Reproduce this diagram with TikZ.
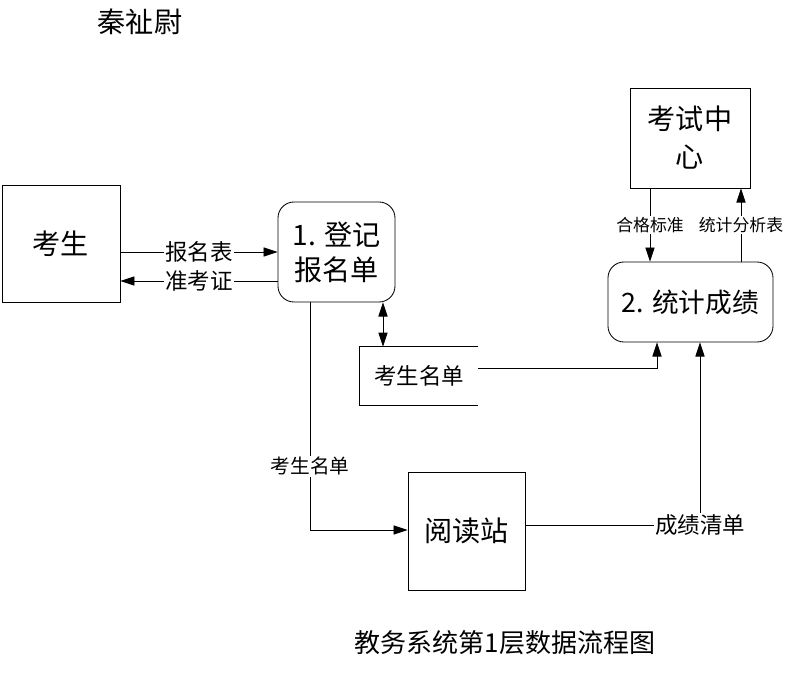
\documentclass[tikz,border=0pt]{standalone}
\usepackage{fontspec}
\setmainfont{Noto Sans CJK SC}
\usepackage{tikz}
\usetikzlibrary{arrows.meta,calc}
\tikzstyle{box} = [draw, line width=0.6pt, inner sep=0pt, align=center, font=\fontsize{20}{25}\selectfont]
\tikzstyle{proc} = [box, rounded corners=0.4cm]
\tikzstyle{lbl} = [fill=white, inner sep=1pt, font=\fontsize{16}{18}\selectfont]
\tikzstyle{slbl} = [fill=white, inner sep=1pt, font=\fontsize{12}{14}\selectfont]
\tikzstyle{flow} = [line width=0.6pt, -{Triangle[length=10pt,width=6.5pt]}]

\begin{document}
\begin{tikzpicture}[x=0.025cm, y=-0.025cm]
\useasboundingbox (0,0) rectangle (792,673);

    \node at (140,22) [font=\fontsize{20}{22}\selectfont] (author) {秦祉尉};

	\node[box, minimum width=2.95cm, minimum height=2.925cm] (kaosheng) at (61,243.5) {考生};
	\node[proc, minimum width=2.925cm, minimum height=2.5cm] (dengji) at (336.5,252) {1. 登记\\报名单};
	\node[box, minimum width=3cm, minimum height=2.5cm] (zhongxin) at (690,138) {考试中\\[2pt]心};
	\node[proc, minimum width=4.125cm, minimum height=2cm, font=\fontsize{19}{22}\selectfont] (tongji) at (690.5,302) {2. 统计成绩};
	\node[box, minimum width=2.925cm, minimum height=2.95cm] (yuedu) at (466.5,531) {阅读站};

	% data store, open on the right
	\node[minimum width=2.95cm, minimum height=1.45cm, font=\fontsize{16}{18}\selectfont] (mingdan) at (419,376) {考生名单};
	\draw[line width=0.6pt] (mingdan.north east) -- (mingdan.north west) -- (mingdan.south west) -- (mingdan.south east);

    \draw[flow] (kaosheng.east |- dengji.west) -- node[lbl] {报名表} (dengji.west);
    \draw[flow] (dengji.west |- 0,281) -- node[lbl] {准考证} (kaosheng.east |- 0,281);
    \draw[flow, {Triangle[length=10pt,width=6.5pt]}-{Triangle[length=10pt,width=6.5pt]}] (dengji.south -| 383,0) -- (mingdan.north -| 383,0);
    \draw[flow] (dengji.south -| 310,0) |- node[lbl, pos=0.36, font=\fontsize{14}{16}\selectfont] {考生名单} (yuedu.west |- 0,530);
    \draw[flow] (mingdan.east |- 0,368) -| (tongji.south -| 657,0);
    \draw[flow] (yuedu.east |- 0,525) -| node[lbl] {成绩清单} (tongji.south -| 700,0);
    \draw[flow] (zhongxin.south -| 650,0) -- node[slbl] {合格标准} (tongji.north -| 650,0);
    \draw[flow] (tongji.north -| 741,0) -- node[slbl] {统计分析表} (zhongxin.south -| 741,0);

    \node at (505,643) [font=\fontsize{18.5}{20}\selectfont] (caption) {教务系统第1层数据流程图};
\end{tikzpicture}
\end{document}
